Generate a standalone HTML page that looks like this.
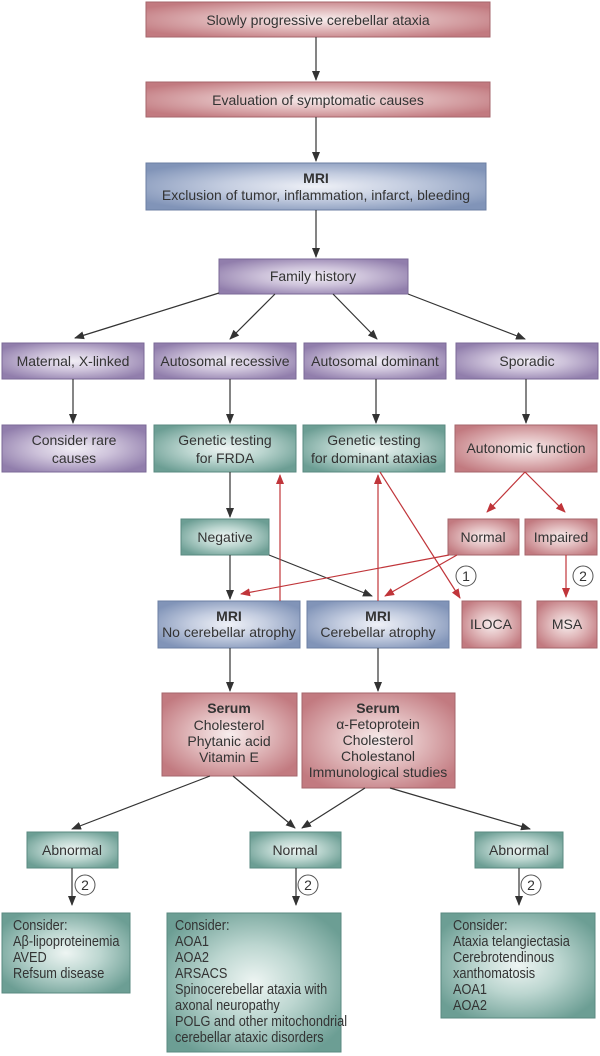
<!DOCTYPE html>
<html><head><meta charset="utf-8"><style>
html,body{margin:0;padding:0;background:#fff;}
svg{display:block;}
text{font-family:"Liberation Sans",sans-serif;font-size:14px;fill:#333;}
</style></head><body>
<svg width="600" height="1056" viewBox="0 0 600 1056" xmlns="http://www.w3.org/2000/svg">
<defs>
<radialGradient id="r" cx="50%" cy="50%" r="60%"><stop offset="0" stop-color="#f7eded"/><stop offset="0.45" stop-color="#e2bcbe"/><stop offset="1" stop-color="#c27a80"/></radialGradient>
<radialGradient id="p" cx="50%" cy="50%" r="60%"><stop offset="0" stop-color="#f1eef5"/><stop offset="0.45" stop-color="#cdc2da"/><stop offset="1" stop-color="#917eac"/></radialGradient>
<radialGradient id="g" cx="50%" cy="50%" r="60%"><stop offset="0" stop-color="#eef5f3"/><stop offset="0.45" stop-color="#bcd6d0"/><stop offset="1" stop-color="#6c9e94"/></radialGradient>
<radialGradient id="b" cx="50%" cy="50%" r="60%"><stop offset="0" stop-color="#eff1f7"/><stop offset="0.45" stop-color="#c4cde0"/><stop offset="1" stop-color="#8194b8"/></radialGradient>
<marker id="ak" markerWidth="10" markerHeight="10" refX="9" refY="5" orient="auto" markerUnits="userSpaceOnUse"><path d="M0,1 L10,5 L0,9 Z" fill="#333"/></marker>
<marker id="ar" markerWidth="10" markerHeight="10" refX="9" refY="5" orient="auto" markerUnits="userSpaceOnUse"><path d="M0,1 L10,5 L0,9 Z" fill="#c0353a"/></marker>
</defs>
<g stroke-width="1">
<rect x="146" y="2" width="344" height="35" fill="url(#r)" stroke="#a6666b"/>
<rect x="146" y="82" width="344" height="35" fill="url(#r)" stroke="#a6666b"/>
<rect x="146" y="163" width="340" height="47" fill="url(#b)" stroke="#6c7fa3"/>
<rect x="219" y="259" width="189" height="35" fill="url(#p)" stroke="#7b6997"/>
<rect x="2" y="343" width="142" height="36" fill="url(#p)" stroke="#7b6997"/>
<rect x="154" y="343" width="142" height="36" fill="url(#p)" stroke="#7b6997"/>
<rect x="304" y="343" width="142" height="36" fill="url(#p)" stroke="#7b6997"/>
<rect x="456" y="343" width="142" height="36" fill="url(#p)" stroke="#7b6997"/>
<rect x="2" y="425" width="144" height="47" fill="url(#p)" stroke="#7b6997"/>
<rect x="154" y="425" width="142" height="47" fill="url(#g)" stroke="#5a8a80"/>
<rect x="303" y="425" width="142" height="47" fill="url(#g)" stroke="#5a8a80"/>
<rect x="455" y="425" width="142" height="47" fill="url(#r)" stroke="#a6666b"/>
<rect x="181" y="519" width="88" height="36" fill="url(#g)" stroke="#5a8a80"/>
<rect x="448" y="519" width="71" height="36" fill="url(#r)" stroke="#a6666b"/>
<rect x="525" y="519" width="72" height="36" fill="url(#r)" stroke="#a6666b"/>
<rect x="158" y="601" width="142" height="47" fill="url(#b)" stroke="#6c7fa3"/>
<rect x="307" y="601" width="142" height="47" fill="url(#b)" stroke="#6c7fa3"/>
<rect x="462" y="601" width="59" height="47" fill="url(#r)" stroke="#a6666b"/>
<rect x="537" y="601" width="60" height="47" fill="url(#r)" stroke="#a6666b"/>
<rect x="162" y="693" width="135" height="83" fill="url(#r)" stroke="#a6666b"/>
<rect x="302" y="693" width="153" height="95" fill="url(#r)" stroke="#a6666b"/>
<rect x="27" y="832" width="91" height="36" fill="url(#g)" stroke="#5a8a80"/>
<rect x="250" y="832" width="91" height="36" fill="url(#g)" stroke="#5a8a80"/>
<rect x="475" y="832" width="88" height="36" fill="url(#g)" stroke="#5a8a80"/>
<rect x="2" y="913" width="128" height="80" fill="url(#g)" stroke="#5a8a80"/>
<rect x="167" y="913" width="174" height="139" fill="url(#g)" stroke="#5a8a80"/>
<rect x="441" y="913" width="154" height="105" fill="url(#g)" stroke="#5a8a80"/>
</g>
<g stroke="#333" stroke-width="1.2" marker-end="url(#ak)">
<line x1="316" y1="37" x2="316" y2="80"/>
<line x1="316" y1="117" x2="316" y2="161"/>
<line x1="316" y1="210" x2="316" y2="257"/>
<line x1="219" y1="293" x2="75" y2="338"/>
<line x1="275" y1="294" x2="230" y2="339"/>
<line x1="333" y1="294" x2="377" y2="339"/>
<line x1="408" y1="294" x2="525" y2="339"/>
<line x1="73" y1="379" x2="73" y2="423"/>
<line x1="230" y1="379" x2="230" y2="423"/>
<line x1="376" y1="379" x2="376" y2="423"/>
<line x1="526" y1="379" x2="526" y2="423"/>
<line x1="230" y1="472" x2="230" y2="517"/>
<line x1="230" y1="555" x2="230" y2="599"/>
<line x1="269" y1="555" x2="372" y2="596"/>
<line x1="230" y1="648" x2="230" y2="691"/>
<line x1="378" y1="648" x2="378" y2="691"/>
<line x1="210" y1="776" x2="72" y2="829"/>
<line x1="233" y1="776" x2="295" y2="828"/>
<line x1="365" y1="788" x2="302" y2="828"/>
<line x1="390" y1="788" x2="530" y2="829"/>
<line x1="72" y1="868" x2="72" y2="905"/>
<line x1="296" y1="868" x2="296" y2="905"/>
<line x1="519" y1="868" x2="519" y2="905"/>
</g>
<g stroke="#c0353a" stroke-width="1.2" marker-end="url(#ar)">
<line x1="525" y1="472" x2="487" y2="512"/>
<line x1="525" y1="472" x2="565" y2="512"/>
<line x1="566" y1="555" x2="566" y2="597"/>
<line x1="449" y1="555" x2="241" y2="594"/>
<line x1="457" y1="555" x2="385" y2="596"/>
<line x1="280" y1="601" x2="280" y2="475"/>
<line x1="378" y1="601" x2="378" y2="475"/>
<line x1="380" y1="472" x2="460" y2="598"/>
</g>
<g fill="#fff" stroke="#555" stroke-width="1">
<circle cx="466" cy="576" r="10"/><circle cx="583" cy="576" r="10"/>
<circle cx="85" cy="885" r="10"/><circle cx="308" cy="885" r="10"/><circle cx="531" cy="885" r="10"/>
</g>
<g text-anchor="middle">
<text x="466" y="581">1</text><text x="583" y="581">2</text>
<text x="85" y="890">2</text><text x="308" y="890">2</text><text x="531" y="890">2</text>
<text x="318" y="25">Slowly progressive cerebellar ataxia</text>
<text x="318" y="105">Evaluation of symptomatic causes</text>
<text x="316" y="183" font-weight="bold">MRI</text>
<text x="316" y="200">Exclusion of tumor, inflammation, infarct, bleeding</text>
<text x="313" y="281">Family history</text>
<text x="73" y="366">Maternal, X-linked</text>
<text x="225" y="366">Autosomal recessive</text>
<text x="375" y="366">Autosomal dominant</text>
<text x="527" y="366">Sporadic</text>
<text x="74" y="445">Consider rare</text><text x="74" y="463">causes</text>
<text x="225" y="445">Genetic testing</text><text x="225" y="463">for FRDA</text>
<text x="374" y="445">Genetic testing</text><text x="374" y="463">for dominant ataxias</text>
<text x="526" y="453">Autonomic function</text>
<text x="225" y="542">Negative</text>
<text x="483" y="542">Normal</text>
<text x="561" y="542">Impaired</text>
<text x="229" y="621" font-weight="bold">MRI</text><text x="229" y="637">No cerebellar atrophy</text>
<text x="378" y="621" font-weight="bold">MRI</text><text x="378" y="637">Cerebellar atrophy</text>
<text x="491" y="629">ILOCA</text><text x="567" y="629">MSA</text>
<text x="229" y="713" font-weight="bold">Serum</text>
<text x="229" y="730">Cholesterol</text><text x="229" y="746">Phytanic acid</text><text x="229" y="762">Vitamin E</text>
<text x="378" y="713" font-weight="bold">Serum</text>
<text x="378" y="729">α-Fetoprotein</text><text x="378" y="745">Cholesterol</text><text x="378" y="761">Cholestanol</text><text x="378" y="777">Immunological studies</text>
<text x="72" y="855">Abnormal</text><text x="295" y="855">Normal</text><text x="519" y="855">Abnormal</text>
</g>
<g style="font-size:15px" transform="translate(13,0) scale(0.85,1)">
<text x="0" y="930" style="font-size:15px">Consider:</text><text x="0" y="946" style="font-size:15px">Aβ-lipoproteinemia</text><text x="0" y="962" style="font-size:15px">AVED</text><text x="0" y="978" style="font-size:15px">Refsum disease</text>
</g>
<g transform="translate(175,0) scale(0.85,1)">
<text x="0" y="930" style="font-size:15px">Consider:</text><text x="0" y="946" style="font-size:15px">AOA1</text><text x="0" y="962" style="font-size:15px">AOA2</text><text x="0" y="978" style="font-size:15px">ARSACS</text><text x="0" y="994" style="font-size:15px">Spinocerebellar ataxia with</text><text x="0" y="1010" style="font-size:15px">axonal neuropathy</text><text x="0" y="1026" style="font-size:15px">POLG and other mitochondrial</text><text x="0" y="1042" style="font-size:15px">cerebellar ataxic disorders</text>
</g>
<g transform="translate(453,0) scale(0.85,1)">
<text x="0" y="930" style="font-size:15px">Consider:</text><text x="0" y="946" style="font-size:15px">Ataxia telangiectasia</text><text x="0" y="962" style="font-size:15px">Cerebrotendinous</text><text x="0" y="978" style="font-size:15px">xanthomatosis</text><text x="0" y="994" style="font-size:15px">AOA1</text><text x="0" y="1010" style="font-size:15px">AOA2</text>
</g>
</svg>
</body></html>
